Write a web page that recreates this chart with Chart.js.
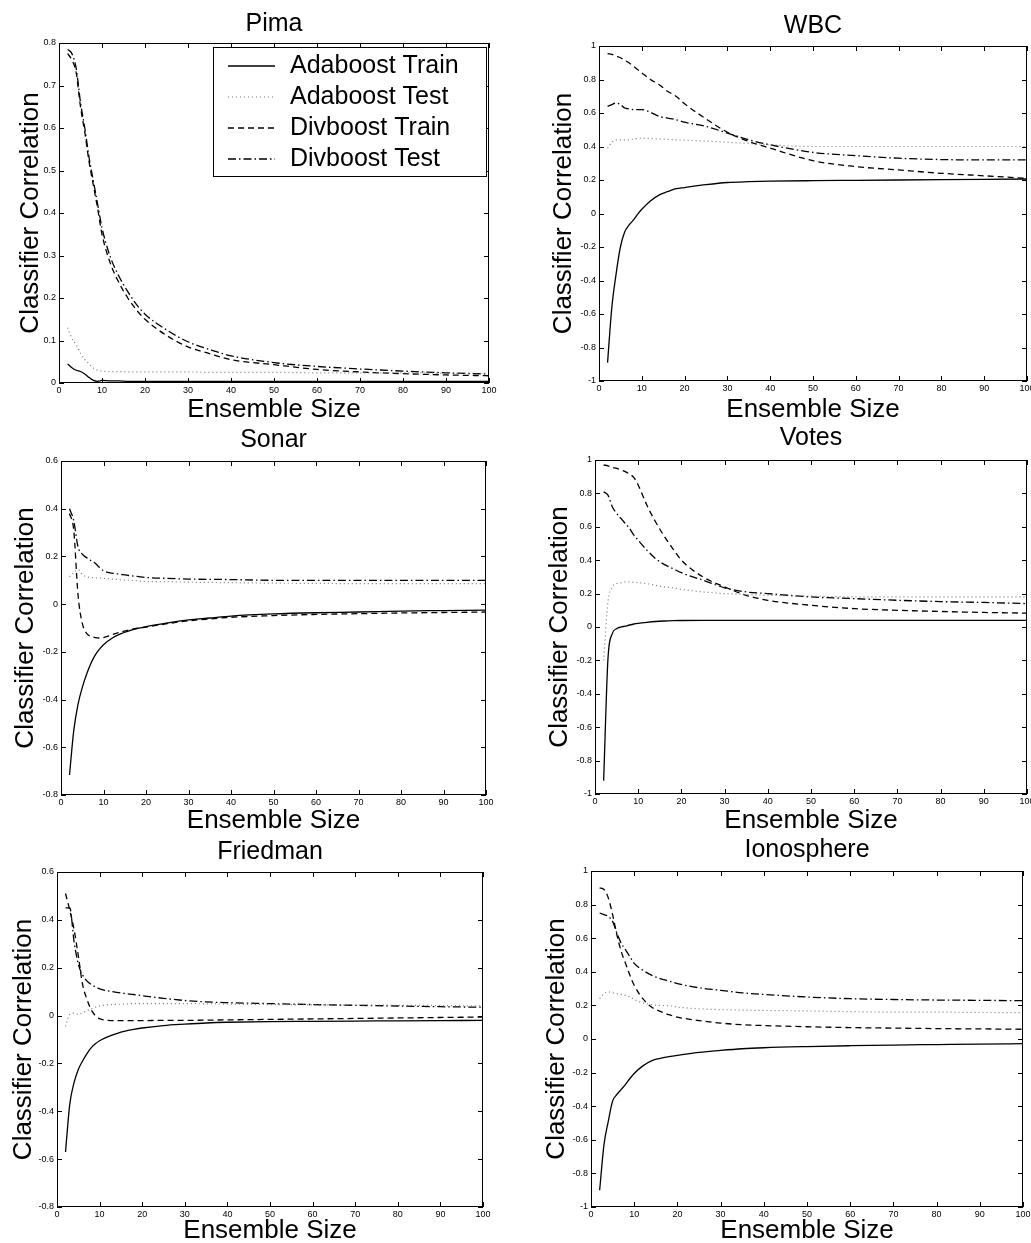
<!DOCTYPE html>
<html>
<head>
<meta charset="utf-8">
<script src="https://cdn.jsdelivr.net/npm/chart.js@4.4.0/dist/chart.umd.min.js"></script>
<style>
  html, body { margin: 0; padding: 0; background: #fff; overflow: hidden; width: 1031px; height: 1243px; }
  .panel { position: absolute; }
</style>
</head>
<body>
<script>
'use strict'

// ensemble sizes (x values)
const sizes = [2,3,4,5,6,7,8,9,10,12,14,16,18,20,25,30,35,40,50,60,70,80,90,100];
const seriesNames = ['Adaboost Train', 'Adaboost Test', 'Divboost Train', 'Divboost Test'];

// Pima
const pimaAdaTrain = [0.045,0.036,0.030,0.027,0.021,0.013,0.006,0.004,0.006,0.005,0.005,0.004,0.004,0.004,0.004,0.004,0.004,0.004,0.004,0.004,0.004,0.004,0.004,0.004];
const pimaAdaTest  = [0.130,0.105,0.090,0.070,0.055,0.045,0.035,0.030,0.028,0.027,0.027,0.026,0.026,0.026,0.026,0.026,0.025,0.025,0.025,0.024,0.024,0.024,0.023,0.023];
const pimaDivTrain = [0.775,0.760,0.730,0.650,0.590,0.520,0.465,0.410,0.350,0.280,0.235,0.200,0.172,0.150,0.112,0.085,0.069,0.055,0.043,0.032,0.026,0.022,0.019,0.017];
const pimaDivTest  = [0.785,0.775,0.740,0.660,0.600,0.530,0.475,0.420,0.365,0.295,0.250,0.215,0.185,0.162,0.125,0.097,0.079,0.064,0.048,0.039,0.033,0.028,0.024,0.021];

// WBC
const wbcAdaTrain = [-0.89,-0.56,-0.36,-0.20,-0.11,-0.07,-0.04,-0.005,0.025,0.075,0.11,0.13,0.148,0.155,0.172,0.185,0.19,0.193,0.196,0.198,0.20,0.202,0.204,0.206];
const wbcAdaTest  = [0.39,0.425,0.44,0.44,0.44,0.44,0.445,0.448,0.45,0.448,0.445,0.443,0.44,0.438,0.432,0.425,0.418,0.41,0.40,0.40,0.40,0.40,0.40,0.40];
const wbcDivTrain = [0.955,0.95,0.94,0.93,0.915,0.90,0.88,0.86,0.84,0.80,0.77,0.73,0.70,0.655,0.565,0.485,0.43,0.39,0.315,0.28,0.26,0.24,0.225,0.21];
const wbcDivTest  = [0.64,0.65,0.66,0.65,0.63,0.625,0.62,0.62,0.62,0.605,0.58,0.57,0.56,0.545,0.52,0.48,0.44,0.41,0.365,0.345,0.33,0.322,0.32,0.32];

// Sonar
const sonarAdaTrain = [-0.716,-0.53,-0.42,-0.35,-0.295,-0.25,-0.215,-0.19,-0.17,-0.143,-0.125,-0.112,-0.102,-0.094,-0.079,-0.066,-0.058,-0.05,-0.041,-0.036,-0.033,-0.029,-0.027,-0.025];
const sonarAdaTest  = [0.115,0.13,0.145,0.125,0.115,0.112,0.11,0.109,0.108,0.105,0.102,0.10,0.098,0.095,0.094,0.092,0.091,0.09,0.088,0.087,0.086,0.086,0.086,0.086];
const sonarDivTrain = [0.38,0.31,0.04,-0.08,-0.122,-0.135,-0.14,-0.142,-0.14,-0.128,-0.117,-0.108,-0.101,-0.096,-0.082,-0.07,-0.062,-0.055,-0.048,-0.043,-0.04,-0.037,-0.035,-0.033];
const sonarDivTest  = [0.40,0.35,0.24,0.21,0.195,0.183,0.172,0.155,0.14,0.13,0.125,0.12,0.116,0.112,0.108,0.105,0.104,0.103,0.10,0.10,0.10,0.10,0.10,0.10];

// Votes
const votesAdaTrain = [-0.92,-0.19,-0.04,-0.01,0.0,0.005,0.012,0.018,0.022,0.028,0.033,0.036,0.038,0.039,0.04,0.04,0.04,0.04,0.04,0.04,0.04,0.04,0.04,0.04];
const votesAdaTest  = [-0.2,0.15,0.24,0.26,0.265,0.27,0.27,0.268,0.265,0.26,0.25,0.24,0.235,0.225,0.21,0.20,0.195,0.19,0.185,0.18,0.18,0.18,0.18,0.18];
const votesDivTrain = [0.97,0.965,0.955,0.95,0.94,0.93,0.915,0.895,0.85,0.73,0.63,0.545,0.47,0.40,0.30,0.24,0.19,0.16,0.13,0.11,0.10,0.093,0.087,0.083];
const votesDivTest  = [0.81,0.79,0.72,0.68,0.65,0.62,0.59,0.55,0.52,0.46,0.41,0.375,0.35,0.325,0.28,0.235,0.21,0.20,0.18,0.17,0.16,0.152,0.147,0.14];

// Friedman
const friedAdaTrain = [-0.57,-0.37,-0.28,-0.225,-0.19,-0.16,-0.135,-0.118,-0.105,-0.088,-0.075,-0.065,-0.058,-0.052,-0.042,-0.036,-0.031,-0.028,-0.025,-0.024,-0.023,-0.022,-0.021,-0.02];
const friedAdaTest  = [-0.045,0.005,0.01,0.005,0.012,0.02,0.028,0.035,0.04,0.045,0.047,0.048,0.05,0.05,0.05,0.05,0.049,0.048,0.046,0.045,0.044,0.043,0.042,0.04];
const friedDivTrain = [0.51,0.44,0.36,0.25,0.13,0.07,0.025,0.0,-0.013,-0.02,-0.021,-0.021,-0.021,-0.021,-0.02,-0.02,-0.019,-0.018,-0.016,-0.014,-0.012,-0.01,-0.008,-0.006];
const friedDivTest  = [0.45,0.45,0.31,0.215,0.17,0.145,0.13,0.12,0.112,0.103,0.097,0.092,0.088,0.083,0.072,0.063,0.057,0.054,0.05,0.046,0.043,0.04,0.037,0.035];

// Ionosphere
const ionoAdaTrain = [-0.9,-0.63,-0.49,-0.37,-0.33,-0.30,-0.27,-0.235,-0.205,-0.16,-0.13,-0.115,-0.105,-0.097,-0.08,-0.068,-0.058,-0.052,-0.045,-0.04,-0.036,-0.033,-0.03,-0.028];
const ionoAdaTest  = [0.24,0.27,0.28,0.275,0.27,0.265,0.26,0.25,0.235,0.215,0.205,0.20,0.198,0.19,0.18,0.175,0.172,0.17,0.167,0.163,0.16,0.16,0.158,0.157];
const ionoDivTrain = [0.9,0.89,0.84,0.74,0.62,0.52,0.45,0.38,0.32,0.24,0.19,0.165,0.145,0.13,0.11,0.095,0.085,0.08,0.073,0.068,0.065,0.062,0.06,0.058];
const ionoDivTest  = [0.75,0.74,0.73,0.70,0.63,0.57,0.53,0.49,0.45,0.41,0.38,0.36,0.345,0.33,0.305,0.29,0.275,0.265,0.25,0.24,0.235,0.232,0.23,0.228];

const FONT = "'Liberation Sans', Arial, Helvetica, sans-serif";

// line look for each series, same order as seriesNames
const seriesStyles = [
  { borderColor: '#000', borderDash: [], borderWidth: 1.3 },
  { borderColor: '#777', borderDash: [1, 3], borderWidth: 1.2 },
  { borderColor: '#000', borderDash: [6, 4], borderWidth: 1.3 },
  { borderColor: '#000', borderDash: [8, 3, 1.5, 3], borderWidth: 1.3 },
];

// plot box (l,t,r,b), title centre y, y-title centre x, x-title centre y
const panels = [
  { title: 'Pima', yMin: 0, yMax: 0.8, yStep: 0.1, series: [pimaAdaTrain, pimaAdaTest, pimaDivTrain, pimaDivTest], legend: true,
    box: [59, 43, 489, 383], titleY: 23.5, yTitleX: 31, xTitleY: 409, padR: 10 },
  { title: 'WBC', yMin: -1, yMax: 1, yStep: 0.2, series: [wbcAdaTrain, wbcAdaTest, wbcDivTrain, wbcDivTest],
    box: [599, 46, 1027, 381], titleY: 26, yTitleX: 564, xTitleY: 409, padR: 4 },
  { title: 'Sonar', yMin: -0.8, yMax: 0.6, yStep: 0.2, series: [sonarAdaTrain, sonarAdaTest, sonarDivTrain, sonarDivTest],
    box: [61, 461, 486, 795], titleY: 440, yTitleX: 26, xTitleY: 820, padR: 10 },
  { title: 'Votes', yMin: -1, yMax: 1, yStep: 0.2, series: [votesAdaTrain, votesAdaTest, votesDivTrain, votesDivTest],
    box: [595, 460, 1027, 794], titleY: 438, yTitleX: 560, xTitleY: 820, padR: 4 },
  { title: 'Friedman', yMin: -0.8, yMax: 0.6, yStep: 0.2, series: [friedAdaTrain, friedAdaTest, friedDivTrain, friedDivTest],
    box: [57, 872, 483, 1207], titleY: 851.5, yTitleX: 23.5, xTitleY: 1230, padR: 10 },
  { title: 'Ionosphere', yMin: -1, yMax: 1, yStep: 0.2, series: [ionoAdaTrain, ionoAdaTest, ionoDivTrain, ionoDivTest],
    box: [591, 871, 1023, 1207], titleY: 850, yTitleX: 557, xTitleY: 1230, padR: 8 },
];

// "1", "0.8", "0", "-0.2" like matlab
function tickText(v) {
  const r = Math.round(v * 100) / 100;
  return Math.abs(r) < 1e-9 ? '0' : String(r);
}

// matlab style frame with inward ticks on all four sides
const framePlugin = {
  id: 'frame',
  afterDraw(chart) {
    const { ctx, chartArea: a, scales: { x, y } } = chart;
    const len = 5;
    ctx.save();
    ctx.strokeStyle = '#000';
    ctx.lineWidth = 1;
    ctx.strokeRect(Math.round(a.left) + 0.5, Math.round(a.top) + 0.5,
      Math.round(a.right - a.left) - 1, Math.round(a.bottom - a.top) - 1);
    ctx.beginPath();
    x.ticks.forEach(t => {
      const px = Math.round(x.getPixelForValue(t.value)) + 0.5;
      ctx.moveTo(px, a.bottom); ctx.lineTo(px, a.bottom - len);
      ctx.moveTo(px, a.top); ctx.lineTo(px, a.top + len);
    });
    y.ticks.forEach(t => {
      const py = Math.round(y.getPixelForValue(t.value)) + 0.5;
      ctx.moveTo(a.left, py); ctx.lineTo(a.left + len, py);
      ctx.moveTo(a.right, py); ctx.lineTo(a.right - len, py);
    });
    ctx.stroke();
    ctx.restore();
  }
};

// boxed legend in the upper right of the plot
const boxLegendPlugin = {
  id: 'boxLegend',
  afterDraw(chart, args, opts) {
    if (!opts.show) return;
    const { ctx, chartArea: a } = chart;
    const w = 273, h = 129;
    const bx = a.right - 3 - w, by = a.top + 4;
    ctx.save();
    ctx.fillStyle = '#fff';
    ctx.fillRect(bx, by, w, h);
    ctx.strokeStyle = '#000';
    ctx.lineWidth = 1;
    ctx.strokeRect(Math.round(bx) + 0.5, Math.round(by) + 0.5, w, h);
    ctx.font = '25px ' + FONT;
    ctx.textBaseline = 'middle';
    ctx.textAlign = 'left';
    chart.data.datasets.forEach((ds, i) => {
      const ry = by + 19 + i * 31;
      ctx.strokeStyle = ds.borderColor;
      ctx.lineWidth = ds.borderWidth;
      ctx.setLineDash(ds.borderDash);
      ctx.beginPath();
      ctx.moveTo(bx + 15, ry);
      ctx.lineTo(bx + 62, ry);
      ctx.stroke();
      ctx.setLineDash([]);
      ctx.fillStyle = '#000';
      ctx.fillText(ds.label, bx + 77, ry);
    });
    ctx.restore();
  }
};

panels.forEach(p => {
  const [L, T, R, B] = p.box;
  const left = Math.round(p.yTitleX - 15.6);
  const top = Math.round(p.titleY - 15);
  const yw = L - left;
  const xh = Math.round(p.xTitleY + 15.6 - B);
  const width = R - left + p.padR;
  const height = B + xh - top;
  const titlePad = T - top - 30;

  const div = document.createElement('div');
  div.className = 'panel';
  div.style.left = left + 'px';
  div.style.top = top + 'px';
  div.style.width = width + 'px';
  div.style.height = height + 'px';
  const canvas = document.createElement('canvas');
  div.appendChild(canvas);
  document.body.appendChild(div);

  const datasets = p.series.map((vals, i) => Object.assign({
    label: seriesNames[i],
    data: sizes.map((s, k) => ({ x: s, y: vals[k] })),
    fill: false,
    pointRadius: 0,
    cubicInterpolationMode: 'monotone',
  }, seriesStyles[i]));

  new Chart(canvas, {
    type: 'line',
    data: { datasets },
    options: {
      responsive: true,
      maintainAspectRatio: false,
      animation: false,
      events: [],
      layout: { padding: { left: 0, top: 0, right: p.padR, bottom: 0 } },
      plugins: {
        legend: { display: false },
        tooltip: { enabled: false },
        title: {
          display: true, text: p.title, fullSize: false, color: '#000',
          font: { family: FONT, size: 25, weight: 'normal', lineHeight: 1.2 },
          padding: { top: 0, bottom: titlePad }
        },
        boxLegend: { show: !!p.legend }
      },
      scales: {
        x: {
          type: 'linear', min: 0, max: 100,
          ticks: { stepSize: 10, color: '#000', padding: 2, maxRotation: 0, autoSkip: false, font: { family: FONT, size: 9 }, callback: tickText },
          grid: { display: false, drawTicks: false },
          border: { display: false },
          title: { display: true, text: 'Ensemble Size', color: '#000', padding: 0, font: { family: FONT, size: 26, lineHeight: 1.2 } },
          afterFit(s) { s.height = xh; s.paddingLeft = 0; s.paddingRight = 0; }
        },
        y: {
          type: 'linear', min: p.yMin, max: p.yMax,
          ticks: { stepSize: p.yStep, color: '#000', padding: 3, autoSkip: false, font: { family: FONT, size: 9 }, callback: tickText },
          grid: { display: false, drawTicks: false },
          border: { display: false },
          title: { display: true, text: 'Classifier Correlation', color: '#000', padding: 0, font: { family: FONT, size: 26, lineHeight: 1.2 } },
          afterFit(s) { s.width = yw; s.paddingTop = 0; s.paddingBottom = 0; }
        }
      }
    },
    plugins: [framePlugin, boxLegendPlugin]
  });
});
</script>
</body>
</html>
